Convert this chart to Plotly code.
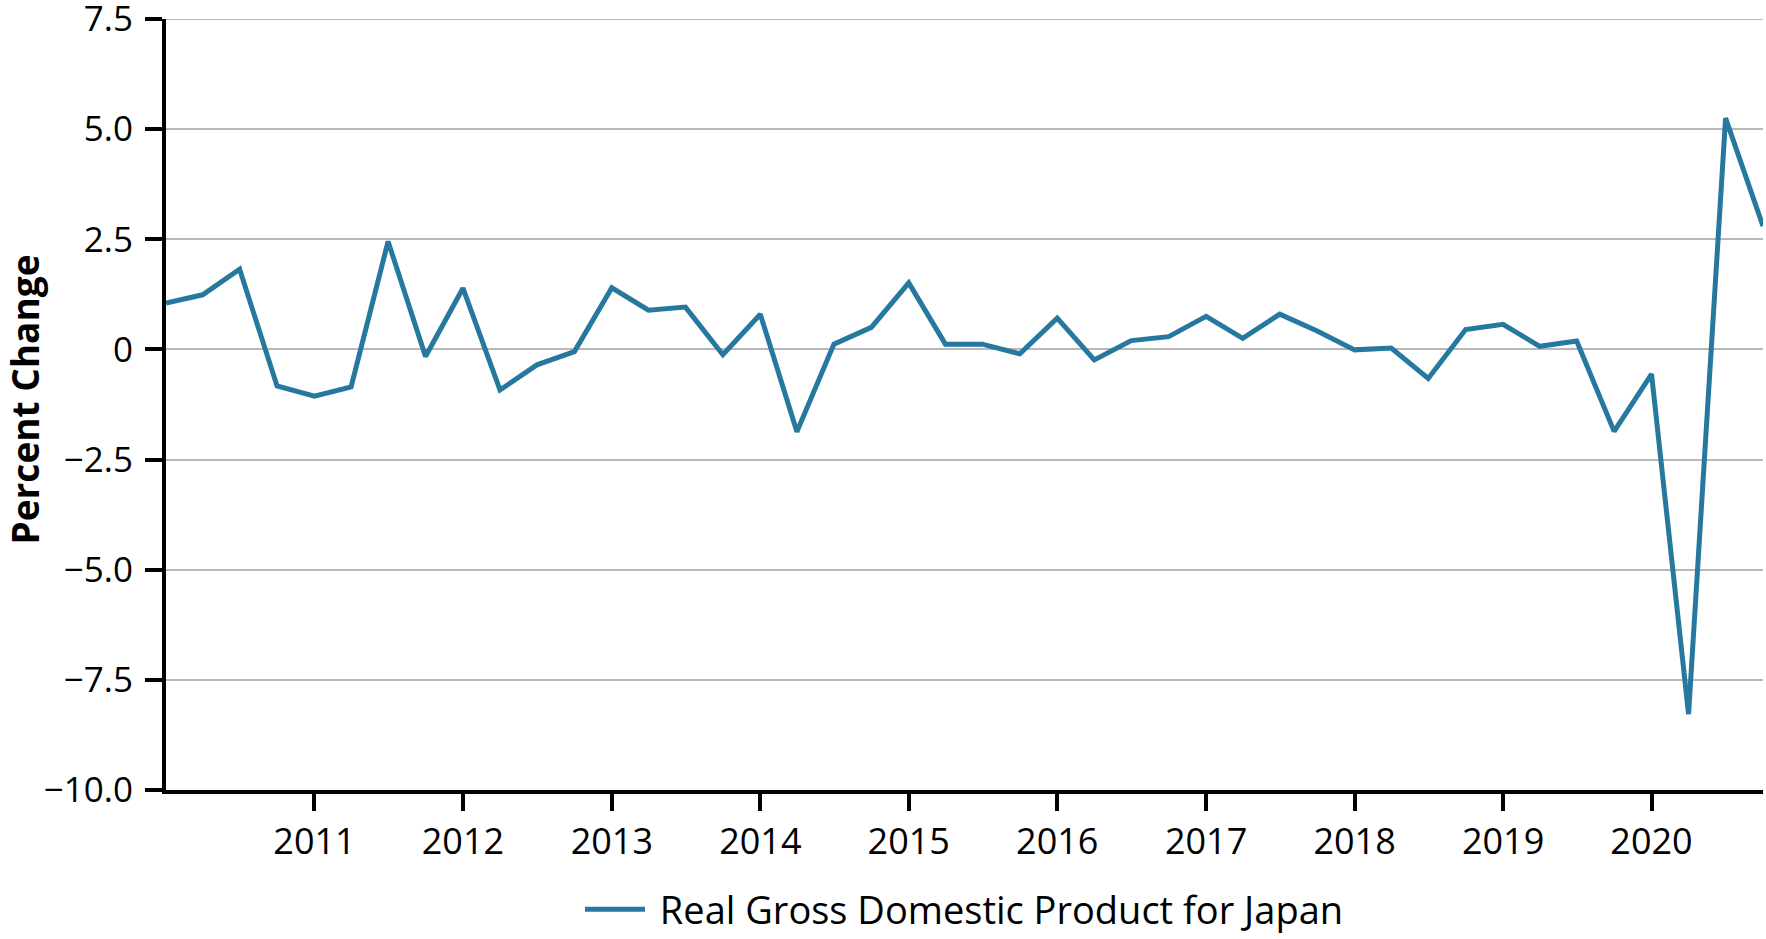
import plotly.graph_objects as go

# Quarterly dates 2010 Q1 - 2020 Q4
quarters = [f"{y}-{m:02d}-01" for y in range(2010, 2021) for m in (1, 4, 7, 10)]

gdp_pct_change = [
    1.05, 1.24, 1.82, -0.83,
    -1.06, -0.85, 2.45, -0.16,
    1.39, -0.92, -0.35, -0.05,
    1.40, 0.89, 0.96, -0.12,
    0.80, -1.87, 0.12, 0.50,
    1.51, 0.12, 0.12, -0.10,
    0.71, -0.24, 0.20, 0.29,
    0.75, 0.25, 0.80, 0.42,
    -0.01, 0.03, -0.66, 0.45,
    0.57, 0.07, 0.19, -1.86,
    -0.56, -8.28, 5.25, 2.80,
]

series_name = "Real Gross Domestic Product for Japan"
y_title = "Percent Change"
year_ticks = [f"{y}-01-01" for y in range(2011, 2021)]
year_labels = [str(y) for y in range(2011, 2021)]
y_ticks = [-10, -7.5, -5, -2.5, 0, 2.5, 5, 7.5]
y_labels = ["\u221210.0", "\u22127.5", "\u22125.0", "\u22122.5", "0", "2.5", "5.0", "7.5"]
y_min, y_max = -10, 7.5

line_color = "#26789F"
grid_color = "#b8b8b8"
font_family = "Open Sans"

fig = go.Figure()
fig.add_trace(go.Scatter(
    x=quarters, y=gdp_pct_change, mode="lines", name=" " + series_name,
    line=dict(color=line_color, width=5), showlegend=True,
))

# top gridline (plotly drops the gridline that sits on the plot edge)
fig.add_shape(type="line", xref="paper", x0=0, x1=1, yref="y", y0=y_max, y1=y_max,
              line=dict(color=grid_color, width=2), layer="below")

# y-axis title
fig.add_annotation(
    text=f"<b>{y_title}</b>", textangle=-90, showarrow=False,
    xref="paper", yref="paper", x=-0.0885, y=0.506,
    xanchor="center", yanchor="middle",
    font=dict(family=font_family, size=37, color="black"),
)

fig.update_layout(
    width=1766, height=939,
    margin=dict(l=166, r=3, t=19, b=149, autoexpand=False),
    paper_bgcolor="white", plot_bgcolor="white",
    font=dict(family=font_family, size=34, color="black"),
    showlegend=True,
    legend=dict(
        orientation="h", x=0.5, xanchor="center", y=-0.155, yanchor="middle",
        font=dict(family=font_family, size=38, color="black"),
        itemwidth=60,
    ),
)

fig.update_xaxes(
    type="date",
    range=[quarters[0], quarters[-1]],
    tickvals=year_ticks, ticktext=year_labels,
    showgrid=False, zeroline=False, automargin=False,
    showline=True, linecolor="black", linewidth=4,
    ticks="outside", ticklen=17, tickwidth=4, tickcolor="black",
    tickfont=dict(size=36), ticklabeloverflow="allow",
)

fig.update_yaxes(
    range=[y_min, y_max],
    tickvals=y_ticks, ticktext=y_labels,
    showgrid=True, gridcolor=grid_color, gridwidth=2,
    zeroline=False, automargin=False,
    showline=True, linecolor="black", linewidth=4,
    ticks="outside", ticklen=17, tickwidth=4, tickcolor="black",
    tickfont=dict(size=35), ticklabelstandoff=5, ticklabeloverflow="allow",
)

fig.write_html(
    "out.html",
    config={"displayModeBar": False},
    post_script="document.body.style.margin='0';document.body.style.padding='0';",
)
